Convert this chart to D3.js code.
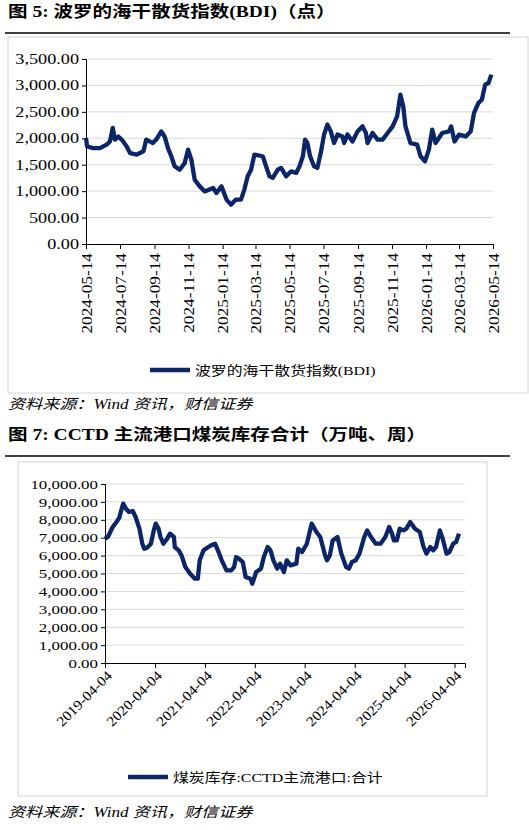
<!DOCTYPE html>
<html><head><meta charset="utf-8">
<script src="https://cdn.jsdelivr.net/npm/d3@7"></script>
<style>
body{margin:0;background:#fff}
text{font-family:"Liberation Serif","Noto Sans CJK SC",serif}
</style></head><body>
<svg id="c" width="529" height="830"></svg>
<script>
// BDI, 2024-05-14 .. 2026-05-11
const bdiDates = [
  "2024-05-14","2024-05-16","2024-05-27","2024-06-08","2024-06-20","2024-06-26","2024-07-01","2024-07-05","2024-07-11","2024-07-17",
  "2024-07-26","2024-08-01","2024-08-13","2024-08-25","2024-08-30","2024-09-11","2024-09-17","2024-09-26","2024-10-02","2024-10-08",
  "2024-10-14","2024-10-20","2024-10-29","2024-11-07","2024-11-13","2024-11-19","2024-11-25","2024-12-04","2024-12-13","2024-12-28",
  "2025-01-03","2025-01-12","2025-01-21","2025-01-29","2025-02-07","2025-02-16","2025-02-22","2025-02-28","2025-03-06","2025-03-12",
  "2025-03-27","2025-04-02","2025-04-08","2025-04-14","2025-04-23","2025-04-29","2025-05-08","2025-05-17","2025-05-26","2025-06-01",
  "2025-06-07","2025-06-11","2025-06-15","2025-06-20","2025-06-27","2025-07-03","2025-07-09","2025-07-15","2025-07-21","2025-07-27",
  "2025-08-02","2025-08-08","2025-08-17","2025-08-20","2025-08-26","2025-09-04","2025-09-13","2025-09-22","2025-09-28","2025-10-01",
  "2025-10-10","2025-10-19","2025-10-28","2025-11-06","2025-11-15","2025-11-23","2025-11-29","2025-12-04","2025-12-08","2025-12-17",
  "2025-12-29","2026-01-04","2026-01-12","2026-01-19","2026-01-25","2026-01-31","2026-02-12","2026-02-24","2026-02-28","2026-03-06",
  "2026-03-14","2026-03-26","2026-04-04","2026-04-10","2026-04-18","2026-04-24","2026-04-30","2026-05-06","2026-05-11"];
const bdiValues = [
  2005,1845,1815,1815,1880,1940,2195,1975,2035,1975,
  1845,1720,1690,1755,1975,1910,1975,2130,2035,1815,
  1660,1470,1405,1530,1785,1595,1215,1090,995,1060,
  965,1090,840,745,840,840,1030,1280,1405,1690,
  1660,1470,1280,1250,1405,1440,1280,1375,1345,1470,
  1660,1975,1910,1660,1470,1440,1720,2070,2260,2130,
  1910,2070,2035,1910,2070,1940,2130,2225,2100,1910,
  2100,1975,1975,2100,2225,2415,2825,2605,2225,1910,
  1880,1660,1565,1785,2165,1910,2100,2130,2225,1940,
  2070,2035,2130,2480,2670,2730,3015,3045,3205];
const bdiTicks = ["2024-05-14","2024-07-14","2024-09-14","2024-11-14","2025-01-14","2025-03-14","2025-05-14",
  "2025-07-14","2025-09-14","2025-11-14","2026-01-14","2026-03-14","2026-05-14"];

// CCTD coal stock, weeks since 2019-04-04
const coalWeeks = [
  0,3,8,12,15,17,19,22,25,29,32,36,39,41,44,48,51,53,56,58,
  61,65,68,72,73,77,80,84,89,94,97,99,103,108,111,115,118,122,127,132,
  135,137,140,144,147,152,154,158,163,166,170,173,176,180,183,187,190,194,200,202,
  206,211,216,221,225,230,232,235,238,243,247,252,255,258,262,266,271,274,278,283,
  288,293,297,300,302,305,308,312,315,319,324,329,333,336,340,343,346,350,353,357,
  360,364,367,370];
const coalValues = [
  6945,7040,7600,7875,8120,8530,8900,8620,8435,8490,8155,7505,6665,6385,6445,6665,7410,7785,7505,7040,
  6665,6945,7225,7040,6480,6295,6015,5365,4990,4710,4710,5735,6295,6480,6575,6665,6295,5735,5175,5175,
  5365,5920,5830,5640,4805,4710,4430,5085,5270,5920,6480,6295,5735,5270,5550,5085,5735,5455,5550,6385,
  6200,6665,7785,7320,7040,6015,5735,6015,6850,7040,6110,5365,5270,5640,5735,6110,7040,7410,7040,6665,
  6665,7040,7600,7225,6850,6850,7505,7410,7505,7875,7505,7320,6480,6110,6480,6295,6480,7410,6945,6110,
  6200,6665,6760,7225];
const coalTicks = ["2019-04-04","2020-04-04","2021-04-04","2022-04-04","2023-04-04","2024-04-04","2025-04-04","2026-04-04"];

const navy = "#0c2566";
const parse = d3.timeParse("%Y-%m-%d");
const fmt = d3.format(",.2f");
const svg = d3.select("#c");

// the reference renders text wider than normal
function stretch(sel, k) {
  sel.each(function () {
    const w = this.getComputedTextLength();
    d3.select(this).attr("textLength", w * k).attr("lengthAdjust", "spacingAndGlyphs");
  });
  return sel;
}

function header(y, label) {
  stretch(svg.append("text").attr("x", 8).attr("y", y).attr("font-size", 16).attr("font-weight", "bold")
    .text(label), 1.22);
  svg.append("line").attr("x1", 5).attr("x2", 510).attr("y1", y + 16).attr("y2", y + 16)
    .attr("stroke", "#000").attr("stroke-width", 1.3);
}
function source(y) {
  stretch(svg.append("text").attr("x", 8).attr("y", y).attr("font-size", 14).attr("font-style", "italic")
    .text("资料来源：Wind 资讯，财信证券"), 1.22);
}

function chart(o) {
  svg.append("rect").attr("x", o.box[0]).attr("y", o.box[1]).attr("width", o.box[2]).attr("height", o.box[3])
    .attr("fill", "none").attr("stroke", "#d4d4d4");
  const x = d3.scaleTime().domain(o.xDomain).range([o.left, o.right]);
  const y = d3.scaleLinear().domain([0, o.yMax]).range([o.bottom, o.top]);
  const g = svg.append("g");
  g.selectAll(".grid").data(d3.range(o.yStep, o.yMax + 1, o.yStep)).join("line")
    .attr("x1", o.left).attr("x2", o.right).attr("y1", y).attr("y2", y).attr("stroke", "#d9d9d9");
  const ya = g.append("g").attr("transform", `translate(${o.left},0)`)
    .call(d3.axisLeft(y).tickValues(d3.range(0, o.yMax + 1, o.yStep)).tickFormat(fmt).tickSize(4));
  stretch(ya.selectAll("text").attr("font-size", o.yFont).attr("fill", "#000")
    .attr("font-family", "Liberation Serif"), 1.3);
  const xa = g.append("g").attr("transform", `translate(0,${o.bottom})`)
    .call(d3.axisBottom(x).tickValues(o.ticks).tickFormat(d3.timeFormat("%Y-%m-%d")).tickSize(5));
  stretch(xa.selectAll("text").attr("font-size", o.xFont).attr("fill", "#000").attr("font-family", "Liberation Serif")
    .attr("text-anchor", "end").attr("dy", "0.35em")
    .attr("transform", o.rotate == -90 ? "translate(0,9) rotate(-90)" : "translate(4,10) rotate(-45)")
    .attr("x", 0).attr("y", 0), o.xStretch);
  g.selectAll(".domain, .tick line").attr("stroke", "#000");
  const line = d3.line().x(d => x(d[0])).y(d => y(d[1]));
  g.append("path").datum(o.data).attr("d", line).attr("fill", "none")
    .attr("stroke", navy).attr("stroke-width", 4.3).attr("stroke-linejoin", "round");
  svg.append("line").attr("x1", o.legend[0]).attr("x2", o.legend[0] + 40).attr("y1", o.legend[1]).attr("y2", o.legend[1])
    .attr("stroke", navy).attr("stroke-width", 4.5);
  stretch(svg.append("text").attr("x", o.legend[0] + 45).attr("y", o.legend[1] + 5).attr("font-size", 13)
    .text(o.legendText), 1.22);
}

header(17, "图 5:  波罗的海干散货指数(BDI)（点）");
chart({
  box: [8, 37, 520, 356], left: 86, right: 493, top: 59, bottom: 244,
  xDomain: [parse("2024-05-14"), parse("2026-05-14")], yMax: 3500, yStep: 500, yFont: 14,
  ticks: bdiTicks.map(parse), rotate: -90, xFont: 15, xStretch: 1.15,
  data: bdiDates.map((d, i) => [parse(d), bdiValues[i]]),
  legend: [150, 370], legendText: "波罗的海干散货指数(BDI)"
});
source(409);

header(440, "图 7:  CCTD  主流港口煤炭库存合计（万吨、周）");
const coalStart = parse("2019-04-04");
chart({
  box: [18, 462, 469, 334], left: 105, right: 465, top: 484, bottom: 663,
  xDomain: [coalStart, parse("2026-06-20")], yMax: 10000, yStep: 1000, yFont: 13,
  ticks: coalTicks.map(parse), rotate: -45, xFont: 14, xStretch: 1.1,
  data: coalWeeks.map((w, i) => [d3.timeWeek.offset(coalStart, w), coalValues[i]]),
  legend: [128, 777], legendText: "煤炭库存:CCTD主流港口:合计"
});
source(817);
</script></body></html>
